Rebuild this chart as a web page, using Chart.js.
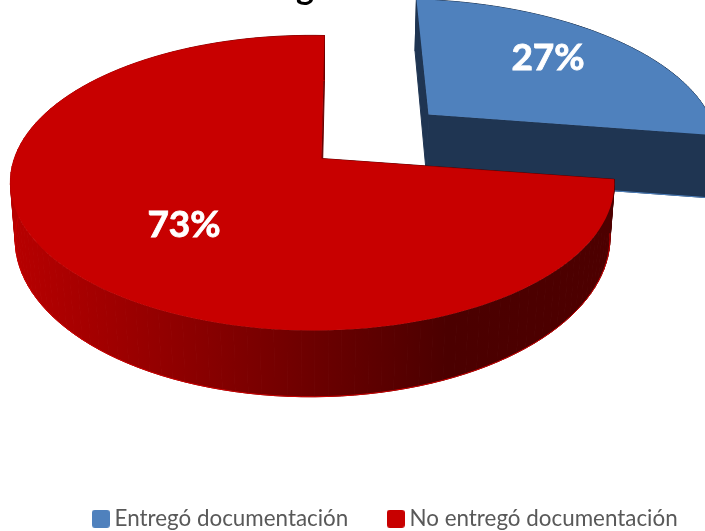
<!DOCTYPE html>
<html>
<head>
<meta charset="utf-8">
<style>body{margin:0;background:#fff}canvas{display:block}</style>
<script src="https://cdn.jsdelivr.net/npm/chart.js@4"></script>
</head>
<body>
<canvas id="chart1" width="705" height="531"></canvas>
<script>
const categories = ['Entregó documentación', 'No entregó documentación']
const shares = [27, 73]
const sliceColors = ['#4f81bd', '#c80000']
const sliceOffsets = [93, 0]

// tilted pie: unit circle (u,v) plus depth z goes through a perspective projection
const view = { cx: 321.5, cy: 158.5, b: 297.5, a: 143.4, k: 0.166, m: 0.028, n: 0.015, h: 55, nearDepth: 0.07, skew: -3.5, tilt: 3 }
const project = (u, v, z) => {
    const w = 1 - view.k * v + view.m * u + view.n * z
    return [
        view.cx + (view.b * u + view.skew * v) / w,
        view.cy + (view.a * v + view.tilt * u + view.h * z * (1 + view.nearDepth * v)) / w
    ]
}

const swatch = color => {
    const c = document.createElement('canvas')
    c.width = 18
    c.height = 18
    const g = c.getContext('2d')
    g.fillStyle = color
    g.beginPath()
    g.roundRect(0, 0, 18, 18, 3)
    g.fill()
    return c
}

const outline = arc => {
    const mid = (arc.startAngle + arc.endAngle) / 2
    const d = (arc.options.offset || 0) / arc.outerRadius
    // the pulled out slice sits nearer the viewer, so it reads a bit larger
    const grow = d > 0 ? 1.05 : 1
    const ox = d * Math.cos(mid)
    const oy = d * Math.sin(mid)
    const pts = [[ox, oy]]
    for (let i = 0; i <= 120; i++) {
        const t = arc.startAngle + (arc.endAngle - arc.startAngle) * i / 120
        pts.push([ox + grow * Math.cos(t), oy + grow * Math.sin(t)])
    }
    return pts
}

const trace = (ctx, pts, z, open) => {
    ctx.beginPath()
    pts.forEach(p => {
        const q = project(p[0], p[1], z)
        ctx.lineTo(q[0], q[1])
    })
    if (!open) ctx.closePath()
}

const wallFill = (ctx, i) => {
    if (i === 0) return '#1f3552'
    const g = ctx.createLinearGradient(10, 0, 617, 0)
    g.addColorStop(0, '#b80000')
    g.addColorStop(0.25, '#930000')
    g.addColorStop(0.5, '#6c0000')
    g.addColorStop(0.72, '#4b0000')
    g.addColorStop(1, '#4d0000')
    return g
}

const sliver = (ctx, pts, color) => {
    // thin shaded edge along the start of each slice
    const a = pts[0]
    const r = pts[1]
    const at = t => project(a[0] + (r[0] - a[0]) * t, a[1] + (r[1] - a[1]) * t, 0)
    const p0 = at(0.02)
    const p1 = at(0.45)
    const p2 = at(0.75)
    ctx.fillStyle = color
    ctx.beginPath()
    ctx.moveTo(p0[0], p0[1])
    ctx.lineTo(p1[0] - 5, p1[1])
    ctx.lineTo(p2[0], p2[1])
    ctx.closePath()
    ctx.fill()
}

const pie3d = {
    id: 'pie3d',
    beforeDatasetDraw(chart, args) {
        const ctx = chart.ctx
        ctx.save()
        args.meta.data.forEach((arc, i) => {
            const pts = outline(arc)
            const fill = wallFill(ctx, i)
            const depth = i === 0 ? 1.25 : 1
            ctx.fillStyle = fill
            ctx.strokeStyle = fill
            ctx.lineWidth = 1
            pts.forEach((p, j) => {
                const next = pts[(j + 1) % pts.length]
                const s = [project(p[0], p[1], 0), project(next[0], next[1], 0), project(next[0], next[1], depth), project(p[0], p[1], depth)]
                ctx.beginPath()
                s.forEach(q => ctx.lineTo(q[0], q[1]))
                ctx.closePath()
                ctx.fill()
                ctx.stroke()
            })
            // light rim along the lower edge
            ctx.strokeStyle = sliceColors[i]
            trace(ctx, i === 0 ? [pts[0], pts[pts.length - 1]] : pts.slice(1), depth, true)
            ctx.stroke()
            if (i === 0) sliver(ctx, pts, '#1f3552')
            ctx.fillStyle = sliceColors[i]
            trace(ctx, pts, 0)
            ctx.fill()
            if (i === 1) sliver(ctx, pts, '#a80000')
        })
        ctx.restore()
        return false
    },
    afterDatasetsDraw(chart) {
        const ctx = chart.ctx
        ctx.save()
        ctx.textAlign = 'center'
        ctx.textBaseline = 'middle'
        ctx.font = 'bold 37px Lato'
        ctx.fillStyle = '#fff'
        ctx.strokeStyle = '#fff'
        ctx.lineWidth = 0.8
        ctx.fillText(shares[0] + '%', 548, 58)
        ctx.strokeText(shares[0] + '%', 548, 58)
        ctx.fillText(shares[1] + '%', 184, 225)
        ctx.strokeText(shares[1] + '%', 184, 225)
        // title sits above the crop, only this descender shows
        ctx.font = 'bold 34px Lato'
        ctx.fillStyle = '#000'
        ctx.textBaseline = 'alphabetic'
        ctx.fillText('g', 305, -1)
        ctx.restore()
    }
}

const swatches = sliceColors.map(swatch)

new Chart('chart1', {
    type: 'pie',
    data: {
        labels: categories,
        datasets: [{
            data: shares,
            backgroundColor: sliceColors,
            offset: sliceOffsets
        }]
    },
    options: {
        responsive: false,
        animation: false,
        layout: { padding: { left: 27, right: -44, bottom: -9 } },
        plugins: {
            tooltip: { enabled: false },
            legend: {
                position: 'bottom',
                labels: {
                    usePointStyle: true,
                    pointStyleWidth: 5,
                    boxHeight: 18,
                    padding: 45,
                    color: '#595959',
                    font: { family: 'Lato', size: 22.4 },
                    generateLabels: chart => Chart.overrides.doughnut.plugins.legend.labels.generateLabels(chart)
                        .map((item, i) => ({ ...item, pointStyle: swatches[i] }))
                }
            }
        }
    },
    plugins: [pie3d]
})
</script>
</body>
</html>
